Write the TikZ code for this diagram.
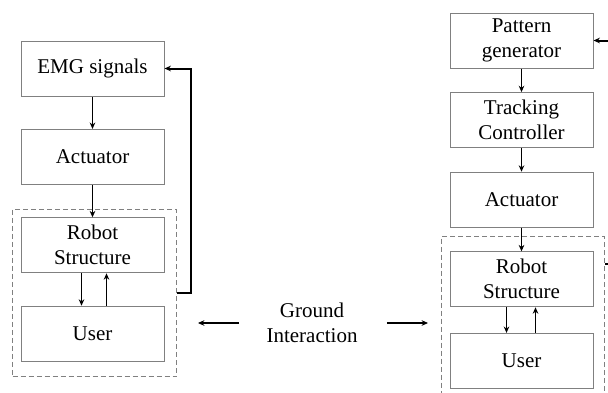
\documentclass[tikz,border=0pt]{standalone}
\usepackage{fontspec}
\setmainfont{Liberation Serif}
\usetikzlibrary{arrows.meta,positioning,fit,calc}

\begin{document}
\begin{tikzpicture}[
    x=0.5pt, y=-0.5pt,
    block/.style={rectangle, draw=gray, line width=0.5pt, minimum width=71.5pt,
                  minimum height=27.5pt, inner sep=1pt, align=center,
                  font=\fontsize{10.5}{12.5}\selectfont},
    group/.style={draw=gray, line width=0.5pt, dash pattern=on 2.5pt off 1.5pt,
                  inner sep=0pt},
    arrow/.style={-{Stealth[length=3.2pt,width=2.8pt]}, line width=0.75pt},
    feedback/.style={arrow, line width=1pt},
    node distance=16.2pt
]
\useasboundingbox (0,0) rectangle (608,392);
\clip (0,0) rectangle (608,392);

% EMG driven loop
\node[block] (emg) at (92.5,68.5) {EMG signals};
\node[block, below=of emg] (act) {Actuator};
\node[block, below=of act] (robot) {Robot\\Structure};
\node[block, below=of robot] (user) {User};
\coordinate (lnw) at ($(robot.north west)+(-8,-8)$);
\coordinate (lse) at ($(user.south east)+(12,15)$);
\node[group, fit=(lnw)(lse)] (lgroup) {};

% pattern driven loop
\node[block] (pattern) at (521.5,40.5) {Pattern\\generator};
\node[block, below=11.8pt of pattern] (track) {Tracking\\Controller};
\node[block, below=11.8pt of track] (act2) {Actuator};
\node[block, below=11.8pt of act2] (robot2) {Robot\\Structure};
\node[block, below=12.8pt of robot2] (user2) {User};
\coordinate (rnw) at ($(robot2.north west)+(-8,-15)$);
\coordinate (rse) at ($(user2.south east)+(11,15)$);
\node[group, fit=(rnw)(rse)] (rgroup) {};
\coordinate (rtap) at ($(rgroup.north east)+(0,28)$);

\node[align=center, inner sep=0pt, font=\fontsize{10.5}{12.5}\selectfont]
  (ground) at (312,323) {Ground\\Interaction};

\draw[arrow] (emg) -- (act);
\draw[arrow] (act) -- (robot);
\draw[arrow] ([xshift=-5.5pt]robot.south) -- ([xshift=-5.5pt]user.north);
\draw[arrow] ([xshift=7pt]user.north) -- ([xshift=7pt]robot.south);
\draw[feedback] (lgroup.east) -- ++(14,0) |- (emg.east);

\draw[arrow] (pattern) -- (track);
\draw[arrow] (track) -- (act2);
\draw[arrow] (act2) -- (robot2);
\draw[arrow] ([xshift=-7.5pt]robot2.south) -- ([xshift=-7.5pt]user2.north);
\draw[arrow] ([xshift=7pt]user2.north) -- ([xshift=7pt]robot2.south);
\draw[feedback] (rtap) -- ++(12,0) |- (pattern.east);

\draw[arrow, shorten <=13.5pt, shorten >=10.5pt] (ground.west) -- (lgroup.east |- ground.west);
\draw[arrow, shorten <=14.5pt, shorten >=6.5pt] (ground.east) -- (rgroup.west |- ground.east);
\end{tikzpicture}
\end{document}
